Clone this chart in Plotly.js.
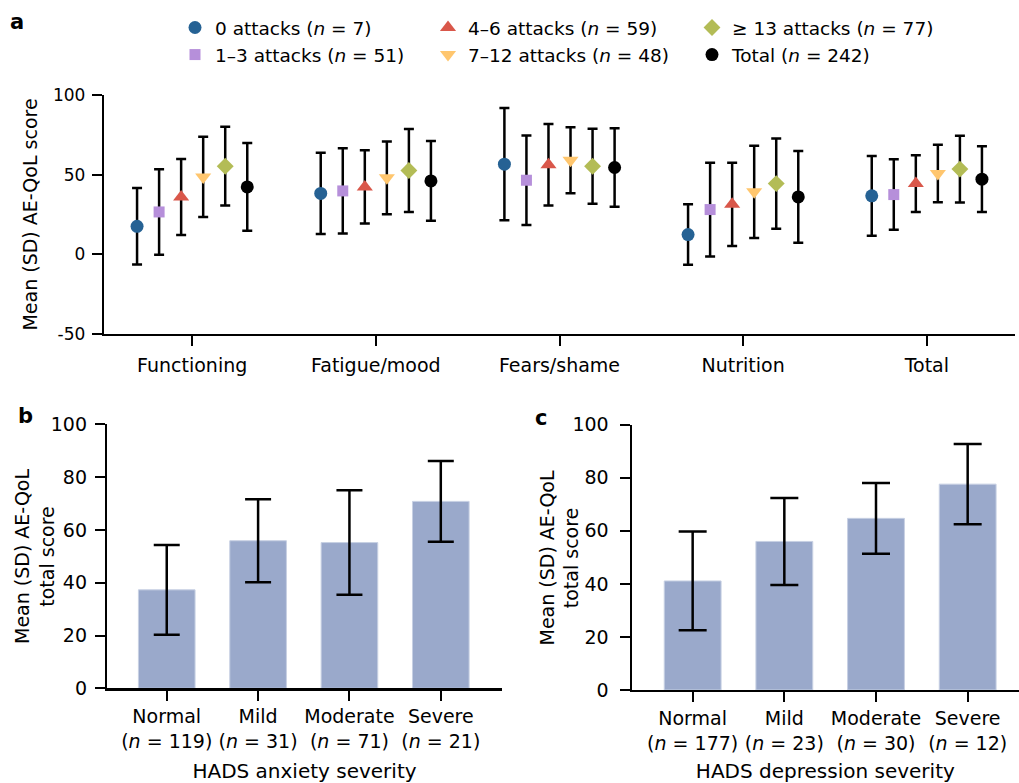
<!DOCTYPE html>
<html><head><meta charset="utf-8">
<script src="https://cdn.plot.ly/plotly-3.0.1.min.js"></script>
<style>html,body{margin:0;padding:0;background:#fff}#chart{width:1019px;height:783px}</style>
</head><body><div id="chart"></div>
<script>
// ---------- DATA ----------
const domainsA = ['Functioning', 'Fatigue/mood', 'Fears/shame', 'Nutrition', 'Total'];
const groupNames = ['0 attacks (<i>n</i> = 7)', '1\u20133 attacks (<i>n</i> = 51)', '4\u20136 attacks (<i>n</i> = 59)',
                    '7\u201312 attacks (<i>n</i> = 48)', '\u2265 13 attacks (<i>n</i> = 77)', 'Total (<i>n</i> = 242)'];
const mean0 = [17.6, 38.2, 56.6, 12.4, 36.7];
const sd0   = [24.0, 25.5, 35.2, 19.0, 25.0];
const mean1 = [26.6, 39.8, 46.5, 28.1, 37.5];
const sd1   = [26.8, 26.8, 28.1, 29.4, 22.1];
const mean2 = [36.0, 42.3, 56.2, 31.4, 44.4];
const sd2   = [23.9, 23.0, 25.6, 26.1, 17.8];
const mean3 = [48.6, 48.0, 59.1, 39.2, 50.7];
const sd3   = [25.2, 22.8, 20.7, 28.9, 18.0];
const mean4 = [55.3, 52.6, 55.3, 44.4, 53.5];
const sd4   = [24.7, 26.0, 23.5, 28.3, 20.9];
const meanT = [42.3, 46.1, 54.5, 36.0, 47.2];
const sdT   = [27.5, 25.0, 24.7, 28.8, 20.7];

const anxietyCats = ['Normal<br>(<i>n</i> = 119)', 'Mild<br>(<i>n</i> = 31)', 'Moderate<br>(<i>n</i> = 71)', 'Severe<br>(<i>n</i> = 21)'];
const anxietyMean = [37.3, 55.9, 55.2, 70.8];
const anxietySD   = [17.0, 15.7, 19.8, 15.3];

const depressionCats = ['Normal<br>(<i>n</i> = 177)', 'Mild<br>(<i>n</i> = 23)', 'Moderate<br>(<i>n</i> = 30)', 'Severe<br>(<i>n</i> = 12)'];
const depressionMean = [41.1, 56.0, 64.7, 77.6];
const depressionSD   = [18.6, 16.4, 13.3, 15.1];

const yTickValsA = [-50, 0, 50, 100];
const yTickTextA = ['-50', '0', '50', '100'];
const yTitleA = 'Mean (SD) AE-QoL score';
const yTitleBC = 'Mean (SD) AE-QoL<br>total score';

// ---------- STYLE ----------
const FONT = 'DejaVu Sans, Arial, sans-serif';
const groupMeans = [mean0, mean1, mean2, mean3, mean4, meanT];
const groupSDs = [sd0, sd1, sd2, sd3, sd4, sdT];
const groupColors = ['#266294', '#B68FDA', '#D9574A', '#FFC66E', '#B3BC56', '#000000'];
const groupSymbols = ['circle', 'square', 'triangle-up', 'triangle-down', 'diamond', 'circle'];
const groupSizes = [13, 11, 14, 14, 13, 13];
const groupLegend = ['legend', 'legend', 'legend2', 'legend2', 'legend3', 'legend3'];
const W = 1019, H = 783;
const px = v => v / W;
const py = v => 1 - v / H;

const traces = [];
for (let i = 0; i < 6; i++) {
  traces.push({
    type: 'scatter', mode: 'markers',
    x: domainsA, y: groupMeans[i],
    name: groupNames[i],
    legend: groupLegend[i],
    xaxis: 'x', yaxis: 'y',
    marker: {color: groupColors[i], symbol: groupSymbols[i], size: groupSizes[i], line: {width: 0}},
    error_y: {type: 'data', array: groupSDs[i], visible: true, color: '#000', thickness: 2.5, width: 5},
    cliponaxis: false,
    hoverinfo: 'skip'
  });
}
traces.push({
  type: 'bar', x: anxietyCats, y: anxietyMean, xaxis: 'x2', yaxis: 'y2', showlegend: false,
  marker: {color: '#9AA9CB', line: {color: '#C7D0E3', width: 1}},
  error_y: {type: 'data', array: anxietySD, visible: true, color: '#000', thickness: 2.5, width: 13},
  hoverinfo: 'skip'
});
traces.push({
  type: 'bar', x: depressionCats, y: depressionMean, xaxis: 'x3', yaxis: 'y3', showlegend: false,
  marker: {color: '#9AA9CB', line: {color: '#C7D0E3', width: 1}},
  error_y: {type: 'data', array: depressionSD, visible: true, color: '#000', thickness: 2.5, width: 14},
  hoverinfo: 'skip'
});

const axisCommon = {
  showgrid: false, zeroline: false, showline: true, linecolor: '#000', linewidth: 2.2,
  ticks: 'outside', ticklen: 10, tickwidth: 2, tickcolor: '#000',
  color: '#000', fixedrange: true
};
const legendCommon = {
  font: {family: FONT, size: 18.5, color: '#000'}, bgcolor: 'rgba(0,0,0,0)',
  orientation: 'v', xanchor: 'left', yanchor: 'top', y: py(9), itemclick: false, itemdoubleclick: false
};
const letterFont = {family: FONT, size: 21, color: '#000'};
const titleFont = {family: FONT, size: 19, color: '#000'};

const layout = {
  width: W, height: H,
  margin: {l: 0, r: 0, t: 0, b: 0},
  paper_bgcolor: '#fff', plot_bgcolor: '#fff',
  font: {family: FONT, color: '#000'},
  scattermode: 'group', scattergap: 0.28,
  bargap: 0.38,
  showlegend: true,
  legend: Object.assign({}, legendCommon, {x: px(175)}),
  legend2: Object.assign({}, legendCommon, {x: px(428)}),
  legend3: Object.assign({}, legendCommon, {x: px(692)}),
  xaxis: Object.assign({}, axisCommon, {
    domain: [px(104), px(1015)], anchor: 'y', type: 'category', range: [-0.48, 4.48],
    tickfont: {family: FONT, size: 19}, ticklabelstandoff: 3
  }),
  yaxis: Object.assign({}, axisCommon, {
    domain: [py(334), py(95)], anchor: 'x', range: [-50, 100],
    tickvals: yTickValsA, ticktext: yTickTextA,
    tickfont: {family: FONT, size: 17}, ticklabelstandoff: 3,
    title: {text: yTitleA, font: titleFont, standoff: 10}
  }),
  xaxis2: Object.assign({}, axisCommon, {
    domain: [px(107), px(502)], anchor: 'y2', type: 'category', range: [-0.654, 3.67],
    tickfont: {family: FONT, size: 19},
    title: {text: 'HADS anxiety severity', font: {family: FONT, size: 20}, standoff: 14}
  }),
  yaxis2: Object.assign({}, axisCommon, {
    domain: [py(688.3), py(424.3)], anchor: 'x2', range: [0, 100], dtick: 20,
    tickfont: {family: FONT, size: 19}, ticklabelstandoff: 4
  }),
  xaxis3: Object.assign({}, axisCommon, {
    domain: [px(631.7), px(1019)], anchor: 'y3', type: 'category', range: [-0.665, 3.56],
    tickfont: {family: FONT, size: 19},
    title: {text: 'HADS depression severity', font: {family: FONT, size: 20}, standoff: 12}
  }),
  yaxis3: Object.assign({}, axisCommon, {
    domain: [py(690), py(424.7)], anchor: 'x3', range: [0, 100], dtick: 20,
    tickfont: {family: FONT, size: 19}, ticklabelstandoff: 7
  }),
  annotations: [
    {text: '<b>a</b>', x: px(17), y: py(22), xref: 'paper', yref: 'paper', xanchor: 'center', yanchor: 'middle', showarrow: false, font: letterFont},
    {text: '<b>b</b>', x: px(25), y: py(416), xref: 'paper', yref: 'paper', xanchor: 'center', yanchor: 'middle', showarrow: false, font: letterFont},
    {text: '<b>c</b>', x: px(541), y: py(418), xref: 'paper', yref: 'paper', xanchor: 'center', yanchor: 'middle', showarrow: false, font: letterFont},
    {text: yTitleBC, x: px(34.5), y: py(556.5), xref: 'paper', yref: 'paper', xanchor: 'center', yanchor: 'middle', textangle: -90, showarrow: false, font: titleFont},
    {text: yTitleBC, x: px(558.5), y: py(558), xref: 'paper', yref: 'paper', xanchor: 'center', yanchor: 'middle', textangle: -90, showarrow: false, font: titleFont}
  ]
};

Plotly.newPlot('chart', traces, layout, {displayModeBar: false, staticPlot: true});
</script>
</body></html>
